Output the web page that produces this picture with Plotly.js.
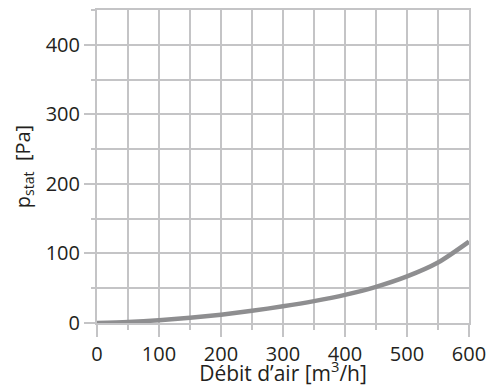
<!DOCTYPE html>
<html>
<head>
<meta charset="utf-8">
<script src="https://cdn.plot.ly/plotly-3.0.1.min.js"></script>
<style>html,body{margin:0;padding:0;background:#fff;}#chart{width:487px;height:387px;}</style>
</head>
<body>
<div id="chart"></div>
<script>
const airflow = [0, 50, 100, 150, 200, 250, 300, 350, 400, 450, 500, 550, 600];
const pressure = [0, 1.5, 4, 7.5, 12, 17.5, 24, 31.5, 40.5, 52, 67, 87, 117];
const xTitle = "Débit d’air [m<sup>3</sup>/h]";
const yTitle = "p<sub>stat</sub>  [Pa]";

const gridColor = "#c4c4c6";
const textColor = "#231f20";
const fontFamily = "'Open Sans', sans-serif";

const trace = {
  x: airflow, y: pressure, type: "scatter", mode: "lines",
  line: {color: "#8e8e90", width: 4.5, shape: "spline", smoothing: 0.8},
  hoverinfo: "skip"
};

const axisCommon = {
  showgrid: true, gridcolor: gridColor, gridwidth: 2,
  zeroline: false,
  showline: true, mirror: true, linecolor: gridColor, linewidth: 2,
  ticks: "outside", tickcolor: gridColor, tickwidth: 2, ticklen: 12,
  tickfont: {family: fontFamily, size: 20, color: textColor},
  ticklabeloverflow: "allow",
  automargin: false,
  fixedrange: true
};

const layout = {
  width: 487, height: 387,
  margin: {l: 97, r: 18, t: 10, b: 64},
  paper_bgcolor: "#fff", plot_bgcolor: "#fff",
  showlegend: false,
  font: {family: fontFamily, color: textColor},
  xaxis: Object.assign({}, axisCommon, {
    range: [0, 600], dtick: 100, tick0: 0,
    minor: {dtick: 50, showgrid: true, gridcolor: gridColor, gridwidth: 2, ticks: "outside", ticklen: 5, tickcolor: gridColor, tickwidth: 2},
    title: {text: xTitle, font: {family: fontFamily, size: 21, color: textColor}, standoff: 4}
  }),
  yaxis: Object.assign({}, axisCommon, {
    range: [0, 450], dtick: 100, tick0: 0, ticklen: 11,
    minor: {dtick: 50, showgrid: true, gridcolor: gridColor, gridwidth: 2, ticks: "outside", ticklen: 4, tickcolor: gridColor, tickwidth: 2},
    title: {text: yTitle, font: {family: fontFamily, size: 20, color: textColor}, standoff: 10}
  })
};

Plotly.newPlot("chart", [trace], layout, {displayModeBar: false, staticPlot: true});
</script>
</body>
</html>
